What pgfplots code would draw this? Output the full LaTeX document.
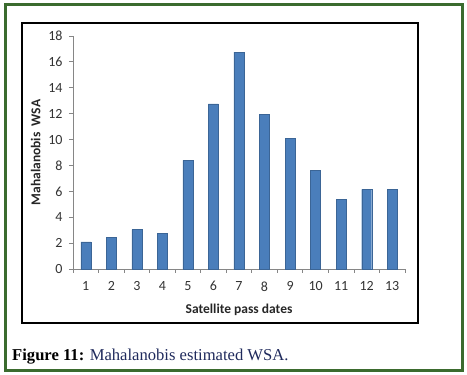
\documentclass[border=0pt]{standalone}
\usepackage{pgfplots}
\pgfplotsset{compat=1.18}
\usepackage{fontspec}
\setmainfont{Carlito}
\newfontfamily\capfont{Liberation Serif}
\definecolor{barblue}{HTML}{4A7EBB}
\definecolor{framegreen}{HTML}{3B6B2E}
\definecolor{capblue}{HTML}{1F2A5C}
\definecolor{axgray}{HTML}{868686}
\begin{document}
\begin{tikzpicture}[x=1pt,y=1pt]
\path (0,0) rectangle (467,375);
\draw[framegreen, line width=3pt] (5,4) rectangle (462,370);
\draw[black, line width=1.5pt] (22,52) rectangle (418,352);
\begin{axis}[
  at={(73pt,106pt)}, anchor=origin,
  scale only axis, width=332pt, height=233pt,
  xmin=0.5, xmax=13.5, ymin=0, ymax=18,
  ybar, bar width=10pt,
  axis x line*=bottom, axis y line*=left,
  axis line style={axgray, -, line width=0.8pt},
  xtick={1,...,13},
  minor xtick={0.5,1.5,...,13.5},
  ytick={0,2,...,18},
  tick align=outside,
  major tick length=4pt, minor tick length=4pt,
  major x tick style={draw=none},
  tick style={axgray, line width=0.8pt},
  every tick label/.append style={font=\fontsize{14}{14}\selectfont, text=black!80},
  /pgf/number format/assume math mode=true,
  xticklabel style={yshift=-5pt},
  yticklabel style={xshift=-3pt},
  xlabel={\bfseries Satellite pass dates},
  ylabel={\bfseries Mahalanobis\ \ WSA},
  label style={font=\fontsize{13.5}{14}\selectfont, text=black!85},
  xlabel style={at={(axis description cs:0.5,0)}, anchor=north, yshift=-31pt},
  ylabel style={at={(axis description cs:0,0.5)}, anchor=south, yshift=29pt},
  clip=false,
]
\addplot[fill=barblue, draw=barblue!80!black, line width=0.3pt] coordinates {
(1,2.1) (2,2.45) (3,3.05) (4,2.75) (5,8.4) (6,12.75) (7,16.75)
(8,11.95) (9,10.1) (10,7.6) (11,5.4) (12,6.15) (13,6.15)};
\end{axis}
\node[anchor=base west, inner sep=0pt, font=\capfont\fontsize{16.6}{17}\selectfont] at (12,14)
  {\textbf{Figure 11:} \textcolor{capblue}{Mahalanobis estimated WSA.}};
\end{tikzpicture}
\end{document}
